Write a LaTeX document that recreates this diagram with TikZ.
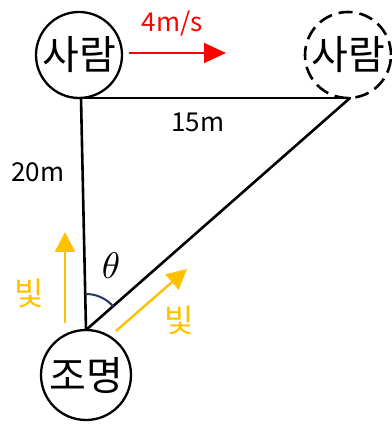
\documentclass[tikz,border=0pt]{standalone}
\usepackage{fontspec}
\setmainfont{Noto Sans CJK KR}
\usetikzlibrary{arrows.meta}
\definecolor{lightY}{HTML}{FFC000}
\definecolor{navyA}{HTML}{1F3864}
\begin{document}
\begin{tikzpicture}[x=1pt,y=1pt,
  person/.style={circle,draw,line width=2.3pt,minimum size=86pt,inner sep=0pt,font=\fontsize{40}{42}\selectfont},
  lbl/.style={inner sep=0pt,font=\fontsize{26}{30}\selectfont},
  side/.style={line width=2.6pt,line cap=round},
  lightarrow/.style={draw=lightY,line width=2.4pt,-{Triangle[length=20pt,width=20pt]}},
  lighttext/.style={inner sep=0pt,text=lightY,font=\fontsize{32}{34}\selectfont}]
\useasboundingbox (0,0) rectangle (391,427);
\node[person] (p1) at (79,372) {사람};
\node[person,dash pattern=on 14pt off 7pt,line width=2.6pt] (p2) at (348,372) {사람};
\node[person,minimum size=90pt] (L) at (86,52) {조명};
\coordinate (A) at (81,329);
\coordinate (B) at (350,329);
\coordinate (V) at (86,97);
\draw[side] (A) -- (B);
\draw[side] (A) -- (V);
\draw[side] (V) -- (B);
\draw[red,line width=1.6pt,-{Triangle[length=22pt,width=20pt]}] (129,374) coordinate (r1) -- (226,374) coordinate (r2);
\node[lbl,text=red] (speed) at (172,403) {4m/s};
\node[lbl] (d15) at (198,305) {15m};
\node[lbl] (d20) at (38,255) {20m};
\node[inner sep=0pt,scale=3.7] (th) at (111,161) {$\theta$};
\draw[navyA,line width=2pt] (V) ++(91:36) arc[start angle=91,end angle=41,radius=36];
\draw[lightarrow] (65,104) coordinate (y1) -- (65,195) coordinate (y2);
\node[lighttext] (b1) at (29,133) {빛};
\draw[lightarrow] (116,96) coordinate (y3) -- (187,158) coordinate (y4);
\node[lighttext] (b2) at (179,106) {빛};
\end{tikzpicture}
\end{document}
